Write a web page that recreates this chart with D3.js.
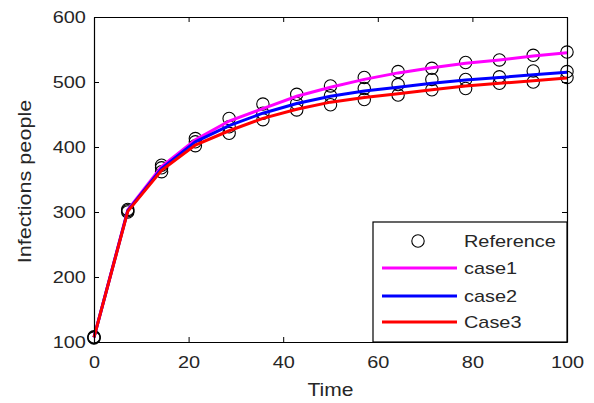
<!DOCTYPE html>
<head>
 <script src="https://cdn.jsdelivr.net/npm/d3@7"></script>
 <title>Infections people</title>
</head>

<style>
body{
  margin: 0;
  background-color: white;
}
text{
  font-family: "Liberation Sans", Arial, sans-serif;
  fill: #262626;
}
</style>

<body>
 <div id="chart"></div>
</body>

<script type="text/javascript">
 // time points (15 samples over 0..100)
 var times = [0, 7.14, 14.29, 21.43, 28.57, 35.71, 42.86, 50, 57.14, 64.29, 71.43, 78.57, 85.71, 92.86, 100];

 var case1 = [107, 303, 370, 411, 440, 459, 478, 492, 504, 514, 522, 529, 534, 540, 545];
 var case2 = [107, 302, 367, 408, 433, 452, 467, 478, 486, 492, 498, 503, 507, 511, 515];
 var case3 = [107, 301, 364, 403, 425, 444, 458, 469, 476, 482, 488, 494, 498, 502, 506];

 // reference points, one set near each case
 var ref1 = [108, 304, 372, 413, 444, 466, 481, 494, 507, 516, 521, 530, 534, 541, 546];
 var ref2 = [107, 302, 368, 408, 431, 452, 467, 479, 490, 496, 504, 504, 508, 517, 516];
 var ref3 = [106, 300, 362, 402, 421, 442, 457, 465, 473, 480, 488, 490, 498, 500, 507];

 var xTicks = [0, 20, 40, 60, 80, 100];
 var yTicks = [100, 200, 300, 400, 500, 600];

 var legendNames = ["Reference", "case1", "case2", "Case3"];
 var colors = ["#ff00ff", "#0000ff", "#ff0000"];

 var props = {
   width: 594,
   height: 403,
   left: 94,
   right: 567,
   top: 17,
   bottom: 342,
   stretch: 1.17
 }

 var svg = d3.select("#chart").append("svg")
   .attr("width", props.width).attr("height", props.height);

 var x = d3.scaleLinear().domain([0, 100]).range([props.left, props.right]);
 var y = d3.scaleLinear().domain([100, 600]).range([props.bottom, props.top]);

 // the original font is wider than Arial, so stretch glyphs a bit
 function label(g, px, py, str, size, anchor, rot){
   return g.append("text")
     .attr("transform", "translate(" + px + "," + py + ") rotate(" + (rot || 0) + ") scale(" + props.stretch + ",1)")
     .attr("text-anchor", anchor)
     .style("font-size", size + "px")
     .text(str);
 }

 // reference circles first, lines on top
 [ref1, ref2, ref3].forEach(function(r){
   svg.append("g").selectAll("circle")
     .data(times)
     .enter().append("circle")
     .attr("cx", function(d){ return x(d); })
     .attr("cy", function(d, i){ return y(r[i]); })
     .attr("r", 6.2)
     .attr("fill", "none")
     .attr("stroke", "black")
     .attr("stroke-width", 1.1);
 });

 var line = d3.line()
   .x(function(d){ return x(d[0]); })
   .y(function(d){ return y(d[1]); });

 // case3 ends up on top
 [case1, case2, case3].forEach(function(c, k){
   svg.append("path")
     .datum(times.map(function(t, i){ return [t, c[i]]; }))
     .attr("d", line)
     .attr("fill", "none")
     .attr("stroke", colors[k])
     .attr("stroke-width", 3);
 });

 // axes box, ticks pointing inward
 function styleAxis(g){
   g.select(".domain").attr("stroke", "black").attr("stroke-width", 1.2);
   g.selectAll(".tick line").attr("stroke", "black");
 }

 var gb = svg.append("g").attr("transform", "translate(0," + props.bottom + ")")
   .call(d3.axisBottom(x).tickValues(xTicks).tickSizeInner(-5).tickSizeOuter(0));
 var gl = svg.append("g").attr("transform", "translate(" + props.left + ",0)")
   .call(d3.axisLeft(y).tickValues(yTicks).tickSizeInner(-5).tickSizeOuter(0));
 var gt = svg.append("g").attr("transform", "translate(0," + props.top + ")")
   .call(d3.axisTop(x).tickValues(xTicks).tickSizeInner(-5).tickSizeOuter(0).tickFormat(""));
 var gr = svg.append("g").attr("transform", "translate(" + props.right + ",0)")
   .call(d3.axisRight(y).tickValues(yTicks).tickSizeInner(-5).tickSizeOuter(0).tickFormat(""));
 [gb, gl, gt, gr].forEach(styleAxis);

 gb.selectAll(".tick text")
   .attr("y", 14).attr("dy", "0.71em")
   .attr("transform", "scale(" + props.stretch + ",1)")
   .style("font-size", "17px").attr("fill", "#262626");
 gl.selectAll(".tick text")
   .attr("x", -7).attr("dy", "0.35em")
   .attr("transform", "scale(" + props.stretch + ",1)")
   .style("font-size", "17px").attr("fill", "#262626");
 gb.attr("font-family", null);
 gl.attr("font-family", null);

 label(svg, (props.left + props.right) / 2, 396, "Time", 18, "middle", 0);
 label(svg, 31, (props.top + props.bottom) / 2 + 2, "Infections people", 18.5, "middle", -90);

 // legend
 var lg = svg.append("g");
 lg.append("rect")
   .attr("x", 373).attr("y", 222)
   .attr("width", props.right - 373).attr("height", props.bottom - 222)
   .attr("fill", "white").attr("stroke", "black").attr("stroke-width", 1.2);

 var rowY = [241, 268, 296, 322];
 lg.append("circle")
   .attr("cx", 418).attr("cy", rowY[0]).attr("r", 6.2)
   .attr("fill", "none").attr("stroke", "black").attr("stroke-width", 1.1);
 colors.forEach(function(c, i){
   lg.append("line")
     .attr("x1", 382).attr("x2", 457)
     .attr("y1", rowY[i + 1]).attr("y2", rowY[i + 1])
     .attr("stroke", c).attr("stroke-width", 3);
 });
 legendNames.forEach(function(n, i){
   label(lg, 464, rowY[i] + 6, n, 17, "start", 0);
 });
</script>
